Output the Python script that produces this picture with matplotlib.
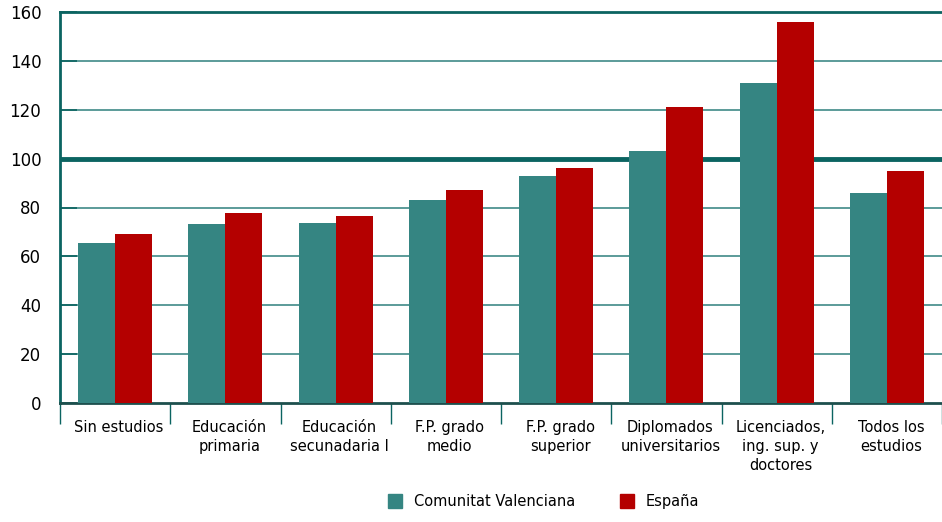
import numpy as np
import matplotlib.pyplot as plt
from matplotlib.patches import Patch

categorias = ['Sin estudios', 'Educación\nprimaria', 'Educación\nsecunadaria I',
              'F.P. grado\nmedio', 'F.P. grado\nsuperior', 'Diplomados\nuniversitarios',
              'Licenciados,\ning. sup. y\ndoctores', 'Todos los\nestudios']
valenciana = [65.3, 73.2, 73.6, 83.2, 92.8, 103.2, 130.8, 85.8]
espana = [69.3, 77.6, 76.4, 87.0, 96.2, 121.2, 155.8, 94.8]
yticks = [0, 20, 40, 60, 80, 100, 120, 140, 160]

teal = '#358582'
red = '#b40000'
dark = '#0b6461'

fig = plt.figure(figsize=(9.42, 5.22), dpi=100)
ax = fig.add_axes([60/942, 1-403/522, 1-60/942, 391/522])

x = np.arange(len(categorias)) + 0.5
w = 0.336
ax.bar(x - w/2, valenciana, w, color=teal, zorder=3)
ax.bar(x + w/2, espana, w, color=red, zorder=3)

# lineas de referencia, detras de las barras
for v in yticks[1:-1]:
    if v == 100:
        continue
    ax.axhline(v, color='#3f8a87', lw=1.2, zorder=1)
ax.axhline(100, color=dark, lw=3.5, zorder=2)

ax.set_xlim(0, len(categorias))
ax.set_ylim(0, 160)
ax.set_yticks(yticks)
ax.tick_params(axis='y', direction='in', length=12, width=1.2, color=dark,
               labelsize=12, pad=13.5)

ax.set_xticks(np.arange(len(categorias) + 1))
ax.set_xticklabels([])
ax.set_xticks(x + 0.036, minor=True)
ax.set_xticklabels(categorias, minor=True, fontsize=10.5, linespacing=1.35, va='top')
ax.tick_params(axis='x', which='major', direction='out', length=15, width=1, color=dark)
ax.tick_params(axis='x', which='minor', length=0, pad=12)

ax.spines['right'].set_visible(False)
ax.spines['left'].set_color(dark)
ax.spines['left'].set_linewidth(2)
ax.spines['top'].set_color(dark)
ax.spines['top'].set_linewidth(2)
ax.spines['bottom'].set_color('#1d4f4d')
ax.spines['bottom'].set_linewidth(2)

handles = [Patch(color=teal, label='Comunitat Valenciana'), Patch(color=red, label='España')]
fig.legend(handles=handles, loc='lower center', bbox_to_anchor=(0.577, 0.0), ncol=2,
           frameon=False, fontsize=10.5, handlelength=0.95, handleheight=1.1,
           columnspacing=3.1, handletextpad=0.8)

fig.savefig('out.png', dpi=100)
